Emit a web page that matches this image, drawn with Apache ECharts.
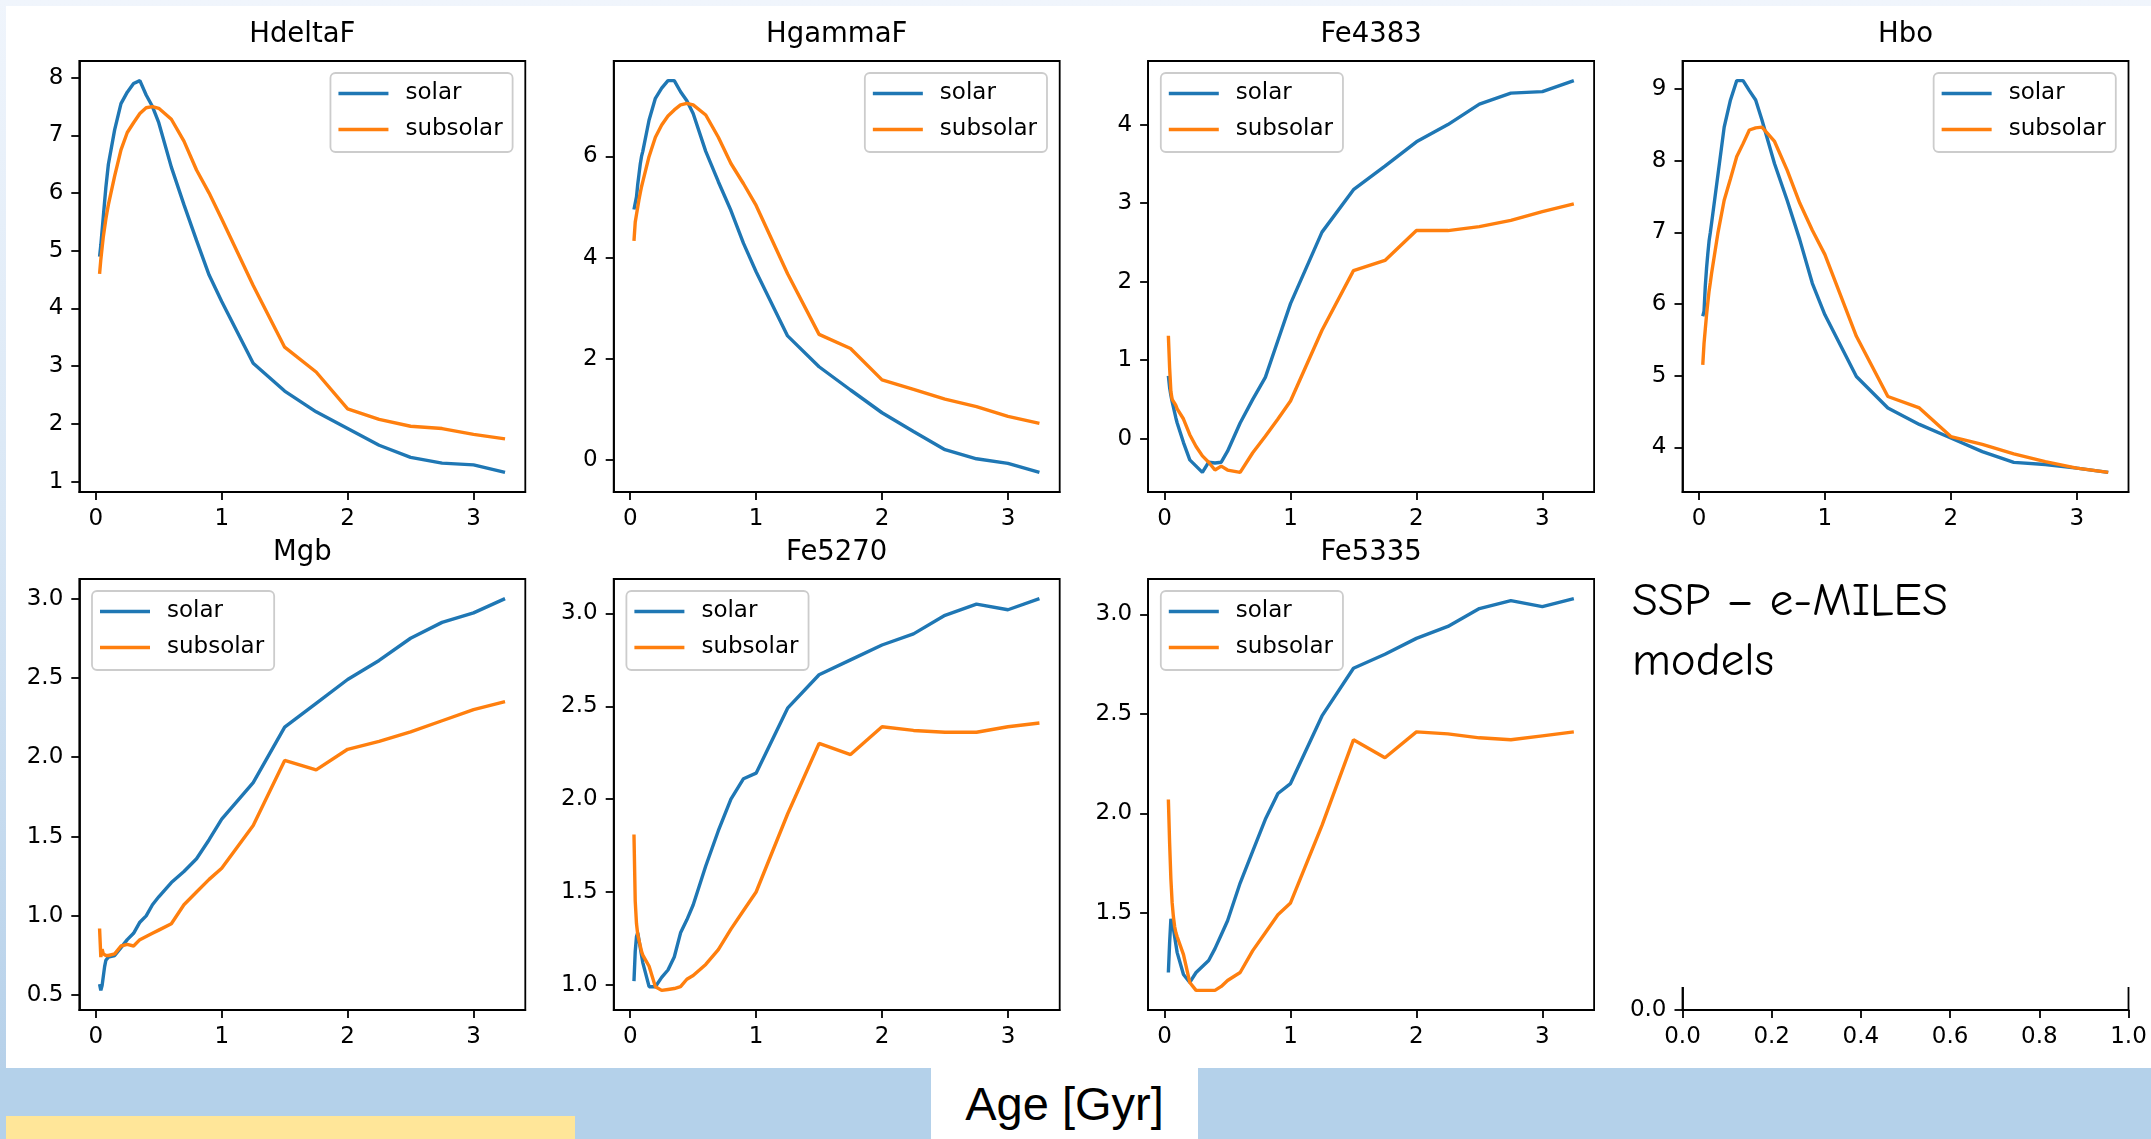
<!DOCTYPE html>
<html>
<head>
<meta charset="utf-8">
<title>SSP e-MILES indices vs age</title>
<script src="https://cdn.jsdelivr.net/npm/echarts@6/dist/echarts.min.js"></script>
<style>
  html, body {
    margin: 0;
    width: 2151px;
    height: 1139px;
    overflow: hidden;
    background: linear-gradient(180deg, #f0f5fc 0%, #d9e7f5 45%, #b2cee8 100%);
    font-family: 'DejaVu Sans', sans-serif;
  }
  .frame { position: absolute; left: 6px; top: 6px; width: 2145px; height: 1062px; background: #fff; }
  .band { position: absolute; left: 0; top: 1068px; width: 2151px; height: 71px; background: #b4d1ea; }
  .agebox { position: absolute; left: 931px; top: 1068px; width: 267px; height: 71px; background: #fff; }
  .agetext {
    position: absolute; left: 931px; top: 1080px; width: 267px;
    text-align: center; font: 47px/47px 'Liberation Sans', sans-serif; color: #000;
  }
  .note { position: absolute; left: 6px; top: 1116px; width: 569px; height: 23px; background: #ffe699; }
  #chart { position: absolute; left: 0; top: 0; width: 2151px; height: 1139px; }
</style>
</head>
<body>
<div class="frame"></div>
<div class="band"></div>
<div class="agebox"></div>
<div class="agetext">Age [Gyr]</div>
<div class="note"></div>
<div id="chart"></div>
<script>
// ages in Gyr (shared by every panel)
const ages = [0.03, 0.04, 0.05, 0.06, 0.07, 0.08, 0.09, 0.10, 0.15, 0.20, 0.25, 0.30, 0.35, 0.40, 0.45,
  0.50, 0.60, 0.70, 0.80, 0.90, 1.00, 1.25, 1.50, 1.75, 2.00, 2.25, 2.50, 2.75, 3.00, 3.25]

const hdeltaSolar = [4.90, 5.10, 5.35, 5.60, 5.85, 6.10, 6.30, 6.50, 7.10, 7.55, 7.75, 7.90, 7.95, 7.70, 7.50,
  7.22, 6.45, 5.80, 5.18, 4.58, 4.12, 3.05, 2.57, 2.21, 1.92, 1.63, 1.42, 1.32, 1.29, 1.16]
const hdeltaSub = [4.60, 4.85, 5.05, 5.25, 5.40, 5.55, 5.68, 5.80, 6.30, 6.75, 7.05, 7.22, 7.38, 7.48, 7.50,
  7.47, 7.28, 6.90, 6.40, 6.00, 5.55, 4.40, 3.33, 2.90, 2.26, 2.08, 1.96, 1.92, 1.82, 1.74]

const hgammaSolar = [4.95, 4.93, 5.20, 5.45, 5.65, 5.85, 6.00, 6.10, 6.72, 7.15, 7.35, 7.50, 7.50, 7.28, 7.10,
  6.85, 6.10, 5.50, 4.93, 4.28, 3.72, 2.45, 1.84, 1.38, 0.93, 0.56, 0.20, 0.02, -0.07, -0.25]
const hgammaSub = [4.33, 4.70, 4.85, 5.00, 5.15, 5.28, 5.40, 5.50, 6.00, 6.38, 6.62, 6.80, 6.92, 7.02, 7.05,
  7.02, 6.82, 6.38, 5.86, 5.46, 5.03, 3.68, 2.48, 2.20, 1.58, 1.39, 1.20, 1.05, 0.86, 0.72]

const fe4383Solar = [0.80, 0.65, 0.55, 0.47, 0.40, 0.33, 0.26, 0.20, -0.05, -0.27, -0.35, -0.43, -0.30, -0.31, -0.30,
  -0.16, 0.20, 0.50, 0.78, 1.25, 1.72, 2.63, 3.17, 3.47, 3.78, 4.00, 4.26, 4.40, 4.42, 4.56]
const fe4383Sub = [1.31, 0.90, 0.60, 0.50, 0.52, 0.45, 0.42, 0.38, 0.25, 0.05, -0.10, -0.22, -0.30, -0.40, -0.35,
  -0.40, -0.43, -0.18, 0.03, 0.25, 0.48, 1.38, 2.14, 2.27, 2.65, 2.65, 2.70, 2.78, 2.89, 2.99]

const hboSolar = [5.83, 5.90, 6.25, 6.50, 6.70, 6.88, 7.00, 7.13, 7.80, 8.47, 8.85, 9.12, 9.12, 8.98, 8.85,
  8.57, 7.96, 7.45, 6.90, 6.29, 5.85, 4.99, 4.55, 4.32, 4.13, 3.94, 3.79, 3.76, 3.71, 3.65]
const hboSub = [5.15, 5.45, 5.65, 5.85, 6.02, 6.18, 6.30, 6.43, 6.99, 7.45, 7.75, 8.06, 8.24, 8.43, 8.46,
  8.47, 8.27, 7.87, 7.41, 7.03, 6.69, 5.55, 4.71, 4.55, 4.15, 4.04, 3.91, 3.80, 3.71, 3.65]

const mgbSolar = [0.57, 0.53, 0.56, 0.62, 0.68, 0.72, 0.73, 0.74, 0.75, 0.80, 0.85, 0.89, 0.96, 1.00, 1.07,
  1.12, 1.21, 1.28, 1.36, 1.48, 1.61, 1.84, 2.19, 2.34, 2.49, 2.61, 2.75, 2.85, 2.91, 3.00]
const mgbSub = [0.92, 0.74, 0.79, 0.76, 0.75, 0.75, 0.75, 0.75, 0.76, 0.81, 0.82, 0.81, 0.85, 0.87, 0.89,
  0.91, 0.95, 1.07, 1.15, 1.23, 1.30, 1.57, 1.98, 1.92, 2.05, 2.10, 2.16, 2.23, 2.30, 2.35]

const fe5270Solar = [1.02, 1.18, 1.26, 1.28, 1.24, 1.20, 1.16, 1.12, 0.99, 0.99, 1.04, 1.08, 1.15, 1.28, 1.35,
  1.43, 1.64, 1.83, 2.00, 2.11, 2.14, 2.49, 2.67, 2.75, 2.83, 2.89, 2.99, 3.05, 3.02, 3.08]
const fe5270Sub = [1.81, 1.45, 1.33, 1.27, 1.24, 1.21, 1.18, 1.16, 1.10, 0.99, 0.97, 0.975, 0.98, 0.99, 1.03,
  1.05, 1.11, 1.19, 1.30, 1.40, 1.50, 1.92, 2.30, 2.24, 2.39, 2.37, 2.36, 2.36, 2.39, 2.41]

const fe5335Solar = [1.20, 1.35, 1.47, 1.46, 1.42, 1.38, 1.34, 1.30, 1.19, 1.15, 1.20, 1.23, 1.26, 1.32, 1.39,
  1.46, 1.65, 1.81, 1.97, 2.10, 2.15, 2.49, 2.73, 2.80, 2.88, 2.94, 3.03, 3.07, 3.04, 3.08]
const fe5335Sub = [2.07, 1.85, 1.67, 1.55, 1.48, 1.43, 1.40, 1.38, 1.29, 1.15, 1.11, 1.11, 1.11, 1.11, 1.13,
  1.16, 1.20, 1.31, 1.40, 1.49, 1.55, 1.94, 2.37, 2.28, 2.41, 2.40, 2.38, 2.37, 2.39, 2.41]

// tick labels
const ageTicks = [0, 1, 2, 3]
const hdeltaTicks = [1, 2, 3, 4, 5, 6, 7, 8]
const hgammaTicks = [0, 2, 4, 6]
const fe4383Ticks = [0, 1, 2, 3, 4]
const hboTicks = [4, 5, 6, 7, 8, 9]
const mgbTicks = [0.5, 1.0, 1.5, 2.0, 2.5, 3.0]
const fe5270Ticks = [1.0, 1.5, 2.0, 2.5, 3.0]
const fe5335Ticks = [1.5, 2.0, 2.5, 3.0]

const panels = [
  { title: 'HdeltaF', solar: hdeltaSolar, sub: hdeltaSub, ticks: hdeltaTicks, legend: 'right' },
  { title: 'HgammaF', solar: hgammaSolar, sub: hgammaSub, ticks: hgammaTicks, legend: 'right' },
  { title: 'Fe4383', solar: fe4383Solar, sub: fe4383Sub, ticks: fe4383Ticks, legend: 'left' },
  { title: 'Hbo', solar: hboSolar, sub: hboSub, ticks: hboTicks, legend: 'right' },
  { title: 'Mgb', solar: mgbSolar, sub: mgbSub, ticks: mgbTicks, legend: 'left' },
  { title: 'Fe5270', solar: fe5270Solar, sub: fe5270Sub, ticks: fe5270Ticks, legend: 'left' },
  { title: 'Fe5335', solar: fe5335Solar, sub: fe5335Sub, ticks: fe5335Ticks, legend: 'left' }
]

const W = 2151
const COL_LEFT = 79.3
const COL_STEP = 534.4
const GRID_W = 446
const ROW_TOP = [61, 579]
const GRID_H = 431
const FONT = 'DejaVu Sans'
const BLUE = '#1f77b4'
const ORANGE = '#ff7f0e'
const SPINE = 1.8

// matplotlib-style autoscale: data range plus 5% on each side
const padMin = (v) => v.min - 0.05 * (v.max - v.min)
const padMax = (v) => v.max + 0.05 * (v.max - v.min)

function gridRect(i) {
  const col = i % 4
  const row = Math.floor(i / 4)
  return { left: COL_LEFT + COL_STEP * col, top: ROW_TOP[row], width: GRID_W, height: GRID_H }
}

function axisCommon(extra) {
  return Object.assign({
    type: 'value',
    axisLine: { show: true, onZero: false, lineStyle: { color: '#000', width: SPINE } },
    splitLine: { show: false }
  }, extra)
}

function tickStyle(values) {
  const t = { show: true, inside: false, length: 8, lineStyle: { color: '#000', width: SPINE } }
  if (values) t.customValues = values
  return t
}

function labelStyle(values, fmt) {
  const l = { color: '#000', fontSize: 23, fontFamily: FONT, margin: 16, hideOverlap: false, showMinLabel: true, showMaxLabel: true }
  if (values) l.customValues = values
  if (fmt) l.formatter = fmt
  return l
}

const grids = []
const xAxes = []
const yAxes = []
const series = []
const titles = []
const legends = []

panels.forEach((p, i) => {
  const r = gridRect(i)
  grids.push({ left: r.left, top: r.top, width: r.width, height: r.height, show: true, borderColor: '#000', borderWidth: SPINE, backgroundColor: 'transparent' })
  xAxes.push(axisCommon({
    gridIndex: i, min: padMin, max: padMax,
    axisTick: tickStyle(ageTicks), axisLabel: labelStyle(ageTicks)
  }))
  const half = p.ticks.some((t) => t % 1 !== 0)
  yAxes.push(axisCommon({
    gridIndex: i, min: padMin, max: padMax,
    axisTick: tickStyle(p.ticks),
    axisLabel: labelStyle(p.ticks, half ? (v) => v.toFixed(1) : (v) => String(v))
  }))
  series.push({
    name: 'solar', type: 'line', xAxisIndex: i, yAxisIndex: i, symbol: 'none', silent: true,
    data: ages.map((a, k) => [a, p.solar[k]]),
    lineStyle: { color: BLUE, width: 3.4 }, itemStyle: { color: BLUE }
  })
  series.push({
    name: 'subsolar', type: 'line', xAxisIndex: i, yAxisIndex: i, symbol: 'none', silent: true,
    data: ages.map((a, k) => [a, p.sub[k]]),
    lineStyle: { color: ORANGE, width: 3.4 }, itemStyle: { color: ORANGE }
  })
  titles.push({
    text: p.title, left: r.left + r.width / 2, top: r.top - 40, textAlign: 'center', padding: 0,
    textStyle: { fontSize: 27.5, fontWeight: 'normal', fontFamily: FONT, color: '#000' }
  })
  const lg = {
    orient: 'vertical', top: r.top + 12, data: ['solar', 'subsolar'], selectedMode: false,
    icon: 'rect', itemWidth: 50, itemHeight: 3.4, itemGap: 13,
    padding: [9, 10, 11, 8], backgroundColor: 'rgba(255,255,255,0.8)',
    borderColor: '#cccccc', borderWidth: SPINE, borderRadius: 5,
    textStyle: { fontSize: 23, fontFamily: FONT, color: '#000', padding: [0, 0, 0, 12] }
  }
  if (p.legend === 'right') lg.right = W - (r.left + r.width) + 12.7
  else lg.left = r.left + 12.7
  legends.push(lg)
})

// eighth, empty axes (mostly hidden behind the text box)
const r8 = gridRect(7)
grids.push({ left: r8.left, top: r8.top, width: r8.width, height: r8.height, show: true, borderColor: '#000', borderWidth: SPINE })
xAxes.push(axisCommon({ gridIndex: 7, min: 0, max: 1, interval: 0.2, axisTick: tickStyle(), axisLabel: labelStyle(null, (v) => v.toFixed(1)) }))
yAxes.push(axisCommon({ gridIndex: 7, min: 0, max: 1, interval: 0.2, axisTick: tickStyle(), axisLabel: labelStyle(null, (v) => v.toFixed(1)) }))

const chart = echarts.init(document.getElementById('chart'), null, { renderer: 'canvas' })
chart.setOption({
  animation: false,
  backgroundColor: 'transparent',
  title: titles,
  legend: legends,
  grid: grids,
  xAxis: xAxes,
  yAxis: yAxes,
  series: series,
  graphic: [
    { type: 'rect', z: 100, shape: { x: 1600, y: 535, width: 551, height: 452 }, style: { fill: '#fff' } },
    {
      type: 'text', z: 101, x: 1632, y: 572,
      style: {
        text: 'SSP – e-MILES\nmodels', fill: '#000', lineHeight: 60,
        font: '47px "Comic Sans MS", "Comic Neue", "DejaVu Sans", sans-serif'
      }
    }
  ]
})
</script>
</body>
</html>
